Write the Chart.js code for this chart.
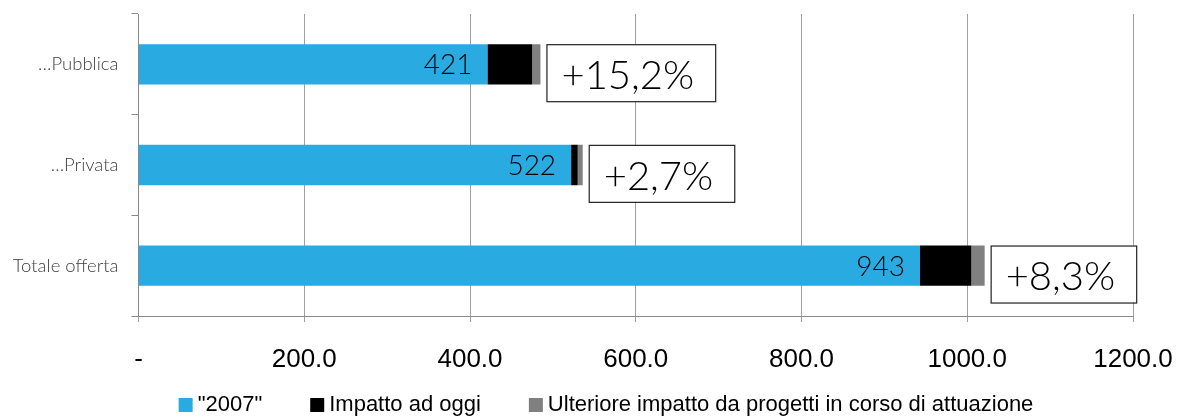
<!DOCTYPE html>
<html>
<head>
<meta charset="utf-8">
<script src="https://cdn.jsdelivr.net/npm/chart.js@4/dist/chart.umd.min.js"></script>
<style>
  html, body { margin: 0; padding: 0; background: #fff; }
  #wrap { width: 1179px; height: 417px; }
</style>
</head>
<body>
<div id="wrap"><canvas id="BarChart"></canvas></div>
<script>
const categories = ['…Pubblica', '…Privata', 'Totale offerta'];
const base2007 = [421, 522, 943];
const impattoOggi = [54, 8, 62];
const ulteriore = [10, 6, 16];
const growthLabels = ['+15,2%', '+2,7%', '+8,3%'];
const xTicks = [0, 200, 400, 600, 800, 1000, 1200];

const futura = 'Lato, "Open Sans", sans-serif';
const calibri = '"Liberation Sans", Arial, sans-serif';

// labels inside the blue bars + growth boxes at the end of each bar
const annotate = {
  id: 'annotate',
  afterDatasetsDraw(chart) {
    const ctx = chart.ctx;
    const blue = chart.getDatasetMeta(0).data;
    const last = chart.getDatasetMeta(2).data;
    ctx.save();
    blue.forEach((bar, i) => {
      ctx.font = '300 28px ' + futura;
      ctx.fillStyle = '#000';
      ctx.textAlign = 'right';
      ctx.textBaseline = 'middle';
      ctx.fillText(String(base2007[i]), bar.x - 15, bar.y + 1);

      const end = last[i];
      const top = end.y - end.height / 2;
      ctx.font = '300 40px ' + futura;
      const w = ctx.measureText(growthLabels[i]).width + 36;
      const left = end.x + 6;
      ctx.fillStyle = '#fff';
      ctx.fillRect(left, top, w, 57);
      ctx.strokeStyle = '#222';
      ctx.lineWidth = 1.2;
      ctx.strokeRect(left + 0.5, top + 0.5, w, 57);
      ctx.fillStyle = '#000';
      ctx.textAlign = 'left';
      ctx.textBaseline = 'middle';
      ctx.fillText(growthLabels[i], left + 15, top + 32);
    });
    ctx.restore();
  }
};

// legend row at the bottom, wider spacing than the built-in one
const bottomLegend = {
  id: 'bottomLegend',
  afterDraw(chart) {
    const ctx = chart.ctx;
    const sets = chart.data.datasets;
    ctx.save();
    ctx.font = '22px ' + calibri;
    const widths = sets.map(d => ctx.measureText(d.label).width);
    const total = widths.reduce((a, w) => a + 14 + 5 + w, 0) + 48 * (sets.length - 1);
    let x = 606 - total / 2;
    const cy = 405;
    sets.forEach((d, i) => {
      ctx.fillStyle = d.backgroundColor;
      ctx.fillRect(x, cy - 7, 14, 14);
      ctx.fillStyle = '#000';
      ctx.textAlign = 'left';
      ctx.textBaseline = 'middle';
      ctx.fillText(d.label, x + 19, cy);
      x += 14 + 5 + widths[i] + 48;
    });
    ctx.restore();
  }
};

const data = {
  labels: categories,
  datasets: [
    { label: '"2007"', data: base2007, backgroundColor: '#29abe2' },
    { label: 'Impatto ad oggi', data: impattoOggi, backgroundColor: '#000000' },
    { label: 'Ulteriore impatto da progetti in corso di attuazione', data: ulteriore, backgroundColor: '#808080' }
  ]
};

const config = {
  type: 'bar',
  data: data,
  plugins: [annotate, bottomLegend],
  options: {
    indexAxis: 'y',
    responsive: true,
    maintainAspectRatio: false,
    animation: false,
    barPercentage: 0.4,
    categoryPercentage: 1.0,
    layout: { padding: { top: 14, right: 46, left: 0, bottom: 31 } },
    plugins: {
      tooltip: { enabled: false },
      legend: { display: false }
    },
    scales: {
      x: {
        stacked: true,
        min: 0,
        max: 1200,
        afterBuildTicks: s => { s.ticks = xTicks.map(v => ({ value: v })); },
        afterFit: s => { s.height = 70; s.paddingLeft = 0; s.paddingRight = 0; },
        grid: { color: '#a0a0a0', lineWidth: 1, tickLength: 6, drawOnChartArea: true },
        border: { display: true, color: '#888' },
        ticks: {
          padding: 22,
          color: '#000',
          font: { family: calibri, size: 26 },
          maxRotation: 0,
          callback: v => v === 0 ? '-' : v.toFixed(1)
        }
      },
      y: {
        stacked: true,
        afterFit: s => { s.width = 138.5; s.paddingTop = 0; s.paddingBottom = 0; },
        grid: { drawOnChartArea: false, tickLength: 7, color: '#888', offset: true },
        border: { display: true, color: '#888' },
        ticks: {
          padding: 13,
          color: '#404040',
          font: { family: futura, size: 18.5, weight: 300 }
        }
      }
    }
  }
};

new Chart(document.getElementById('BarChart'), config);
</script>
</body>
</html>
